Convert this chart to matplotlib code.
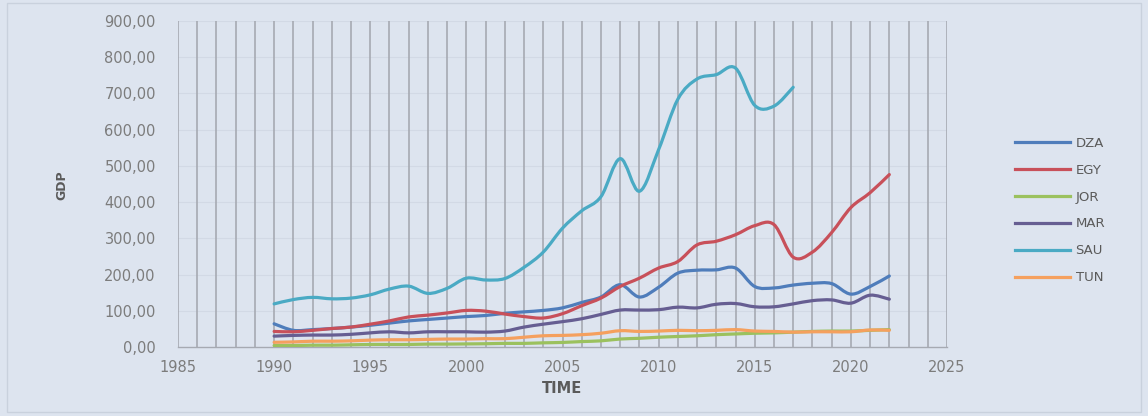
import numpy as np
import matplotlib
matplotlib.use("Agg")
import matplotlib.pyplot as plt
from matplotlib.path import Path
from matplotlib.patches import PathPatch, Rectangle
from matplotlib.lines import Line2D
from matplotlib.ticker import FuncFormatter, MultipleLocator

# GDP by country, 1990-2022
years = list(range(1990, 2023))
dza = [64, 46, 48, 51, 55, 60, 66, 72, 76, 80, 84, 87, 93, 97, 101, 108, 123, 138, 172, 138,
       165, 204, 212, 213, 218, 167, 163, 171, 176, 175, 146, 167, 196]
egy = [43, 42, 46, 51, 55, 63, 72, 83, 88, 94, 101, 99, 91, 84, 80, 92, 114, 135, 167, 190,
       218, 236, 282, 292, 310, 335, 338, 248, 262, 316, 385, 426, 476]
jor = [4, 4, 5, 5, 6, 7, 7, 7, 8, 8, 8.5, 9, 10, 10, 11.5, 12.6, 15, 17, 22, 24,
       27, 29, 31, 34, 36, 38, 39, 41, 43, 44, 44, 46, 48]
mar = [30, 32, 33, 33, 35, 39, 42, 39, 42, 42, 42, 41, 44, 55, 63, 70, 78, 90, 102, 102,
       103, 110, 108, 118, 120, 111, 111, 119, 128, 130, 121, 143, 132]
sau_years = list(range(1990, 2018))
sau = [119, 131, 137, 133, 135, 144, 160, 168, 148, 162, 190, 185, 189, 220, 262, 328, 376, 415,
       520, 430, 545, 684, 740, 752, 770, 667, 665, 717]
tun = [13, 14, 16, 16, 17, 19, 20, 20, 21, 22, 22, 23, 23, 27, 31, 32, 34, 38, 45, 43,
       44, 46, 45, 46, 48, 44, 43, 41, 42, 42, 42, 47, 46]

series = [
    ("DZA", years, dza, "#4f7dbb"),
    ("EGY", years, egy, "#c8505a"),
    ("JOR", years, jor, "#9bc15e"),
    ("MAR", years, mar, "#665e92"),
    ("SAU", sau_years, sau, "#4aaac4"),
    ("TUN", years, tun, "#f5a05e"),
]

BG = "#dde4ef"


def smooth_path(xs, ys):
    """Cubic Bezier path through the points (Catmull-Rom style tangents)."""
    p = np.column_stack([np.asarray(xs, float), np.asarray(ys, float)])
    n = len(p)
    verts = [p[0]]
    codes = [Path.MOVETO]
    for i in range(n - 1):
        p0 = p[i - 1] if i > 0 else p[i]
        p1 = p[i]
        p2 = p[i + 1]
        p3 = p[i + 2] if i + 2 < n else p[i + 1]
        c1 = p1 + (p2 - p0) / 6.0
        c2 = p2 - (p3 - p1) / 6.0
        verts += [c1, c2, p2]
        codes += [Path.CURVE4] * 3
    return Path(verts, codes)


fig = plt.figure(figsize=(11.48, 4.16), dpi=100, facecolor=BG)
fig.patches.append(Rectangle((7 / 1148, 4 / 416), 1134 / 1148, 409 / 416,
                             transform=fig.transFigure, facecolor="none",
                             edgecolor="#c9d1dd", linewidth=1.0))

ax = fig.add_axes([178 / 1148, 1 - 347 / 416, (947 - 178) / 1148, (347 - 21) / 416])
ax.set_facecolor(BG)
ax.set_xlim(1985, 2025)
ax.set_ylim(0, 900)

# faint horizontal grid, strong vertical grid every year
for v in range(100, 901, 100):
    ax.axhline(v, color="#d2d9e5", linewidth=0.8, zorder=0)
for yr in range(1985, 2026):
    ax.axvline(yr, color="#a6aab2", linewidth=1.2, zorder=1)

for spine in ["top", "right", "left"]:
    ax.spines[spine].set_visible(False)
ax.spines["bottom"].set_color("#a6aab2")
ax.spines["bottom"].set_linewidth(1.0)

ax.xaxis.set_major_locator(MultipleLocator(5))
ax.yaxis.set_major_locator(MultipleLocator(100))
ax.yaxis.set_major_formatter(FuncFormatter(lambda v, _: f"{v:.2f}".replace(".", ",")))
ax.tick_params(axis="both", length=0, colors="#7c7c7c", labelsize=10.5)
ax.tick_params(axis="y", pad=16)
ax.tick_params(axis="x", pad=9)

for name, xs, ys, color in series:
    ax.add_patch(PathPatch(smooth_path(xs, ys), facecolor="none", edgecolor=color,
                           linewidth=2.3, capstyle="round", joinstyle="round", zorder=3))

ax.set_xlabel("TIME", fontsize=10.5, fontweight="bold", color="#5a5a5a", labelpad=5)
fig.text(62 / 1148, 1 - 185 / 416, "GDP", rotation=90, fontsize=9, fontweight="bold",
         color="#5a5a5a", ha="center", va="center")

handles = [Line2D([], [], color=c, linewidth=2.3) for _, _, _, c in series]
leg = fig.legend(handles, [s[0] for s in series], loc="upper left",
                 bbox_to_anchor=(1003 / 1148, 1 - 125 / 416), frameon=False,
                 fontsize=9.5, handlelength=4.2, handletextpad=0.4, labelspacing=1.05,
                 labelcolor="#5a5a5a")

fig.savefig("out.png", dpi=100, facecolor=BG)
